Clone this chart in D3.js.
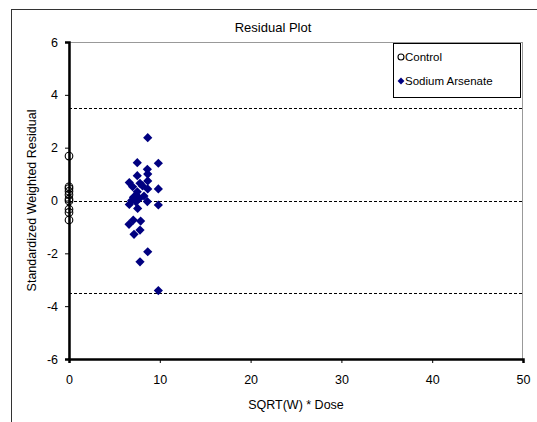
<!DOCTYPE html>
<html>
<head>
<meta charset="utf-8">
<script src="https://cdn.jsdelivr.net/npm/d3@7"></script>
<style>
  html, body { margin: 0; padding: 0; background: #fff; }
  svg { display: block; font-family: "Liberation Sans", Arial, sans-serif; }
</style>
</head>
<body>
<svg id="chart" width="537" height="422"></svg>
<script>
// ---- data ----
const title = "Residual Plot";
const xLabel = "SQRT(W) * Dose";
const yLabel = "Standardized Weighted Residual";
const seriesNames = ["Control", "Sodium Arsenate"];
const xTicks = [0, 10, 20, 30, 40, 50];
const yTicks = [-6, -4, -2, 0, 2, 4, 6];
const refLines = [-3.5, 0, 3.5];

const controlX = [0, 0, 0, 0, 0, 0, 0, 0, 0, 0];
const controlY = [1.68, 0.52, 0.45, 0.35, 0.22, 0.05, -0.02, -0.33, -0.45, -0.74];

const arsenateX = [8.67, 7.52, 9.84, 8.63, 8.67, 7.52, 8.67, 6.64, 7.82, 7.01,
                   8.67, 9.84, 7.52, 7.10, 7.75, 8.26, 6.64, 7.38, 8.63, 9.84,
                   7.56, 7.08, 7.89, 6.61, 7.82, 7.16, 8.67, 7.82, 9.84, 7.40,
                   8.10, 6.90];
const arsenateY = [2.38, 1.43, 1.41, 1.18, 1.00, 0.94, 0.74, 0.68, 0.65, 0.52,
                   0.44, 0.44, 0.33, 0.12, 0.08, 0.17, -0.15, -0.05, -0.04, -0.17,
                   -0.30, -0.74, -0.78, -0.90, -1.12, -1.28, -1.94, -2.32, -3.41, 0.20,
                   0.55, 0.00];

// ---- layout ----
const svg = d3.select("#chart");
const plot = { left: 69, right: 523, top: 42, bottom: 359 };

const x = d3.scaleLinear().domain([0, 50]).range([plot.left, plot.right]);
const y = d3.scaleLinear().domain([-6, 6]).range([plot.bottom, plot.top]);

// outer chart border
svg.append("rect")
  .attr("x", 11.5).attr("y", 9.5)
  .attr("width", 540).attr("height", 430)
  .attr("fill", "none").attr("stroke", "#333").attr("stroke-width", 1);

// plot area border (gray)
svg.append("rect")
  .attr("x", plot.left).attr("y", plot.top + 0.5)
  .attr("width", plot.right - plot.left - 0.5).attr("height", plot.bottom - plot.top)
  .attr("fill", "#fff").attr("stroke", "#999").attr("stroke-width", 1);

// reference dashed lines
svg.append("g").selectAll("line").data(refLines).join("line")
  .attr("x1", plot.left).attr("x2", plot.right)
  .attr("y1", d => Math.round(y(d)) + 0.5).attr("y2", d => Math.round(y(d)) + 0.5)
  .attr("stroke", "#000").attr("stroke-width", 1)
  .attr("stroke-dasharray", "3,2");

// axes
const fmt = d => String(d);
const yAxis = d3.axisLeft(y).tickValues(yTicks).tickSize(4).tickPadding(7).tickFormat(fmt);
const xAxis = d3.axisBottom(x).tickValues(xTicks).tickSize(4).tickPadding(12).tickFormat(fmt);

const gy = svg.append("g").attr("transform", `translate(${plot.left},0)`).call(yAxis);
const gx = svg.append("g").attr("transform", `translate(0,${plot.bottom})`).call(xAxis);
[gx, gy].forEach(g => {
  g.select(".domain").attr("stroke", "#000").attr("stroke-width", 2.5);
  g.selectAll(".tick line").attr("stroke", "#000").attr("stroke-width", 1);
  g.selectAll(".tick text").attr("font-size", 12.5).attr("fill", "#000")
    .attr("font-family", "Liberation Sans, Arial, sans-serif");
});

// control points (open circles)
svg.append("g").selectAll("circle").data(controlX.map((d, i) => [d, controlY[i]])).join("circle")
  .attr("cx", d => x(d[0])).attr("cy", d => y(d[1])).attr("r", 3.8)
  .attr("fill", "none").attr("stroke", "#000").attr("stroke-width", 1.1);

// sodium arsenate (diamonds)
const diamond = d3.symbol().type(d3.symbolDiamond2).size(54);
svg.append("g").selectAll("path").data(arsenateX.map((d, i) => [d, arsenateY[i]])).join("path")
  .attr("transform", d => `translate(${x(d[0])},${y(d[1])})`)
  .attr("d", diamond).attr("fill", "#000080");

// title & axis labels
svg.append("text").attr("x", 273).attr("y", 32).attr("text-anchor", "middle")
  .attr("font-size", 13).text(title);
svg.append("text").attr("x", (plot.left + plot.right) / 2).attr("y", 409).attr("text-anchor", "middle")
  .attr("font-size", 12.5).text(xLabel);
svg.append("text").attr("transform", `translate(36,${(plot.top + plot.bottom) / 2}) rotate(-90)`)
  .attr("text-anchor", "middle").attr("font-size", 12.5).text(yLabel);

// legend
const lg = svg.append("g");
lg.append("rect").attr("x", 393.5).attr("y", 43.5).attr("width", 127).attr("height", 54)
  .attr("fill", "#fff").attr("stroke", "#000").attr("stroke-width", 1);
lg.append("circle").attr("cx", 401).attr("cy", 57).attr("r", 3)
  .attr("fill", "none").attr("stroke", "#000").attr("stroke-width", 1.1);
lg.append("text").attr("x", 405).attr("y", 61).attr("font-size", 11.5).text(seriesNames[0]);
lg.append("path").attr("transform", "translate(401,81)")
  .attr("d", d3.symbol().type(d3.symbolDiamond2).size(30)).attr("fill", "#000080");
lg.append("text").attr("x", 405).attr("y", 85).attr("font-size", 11.5).text(seriesNames[1]);
</script>
</body>
</html>
